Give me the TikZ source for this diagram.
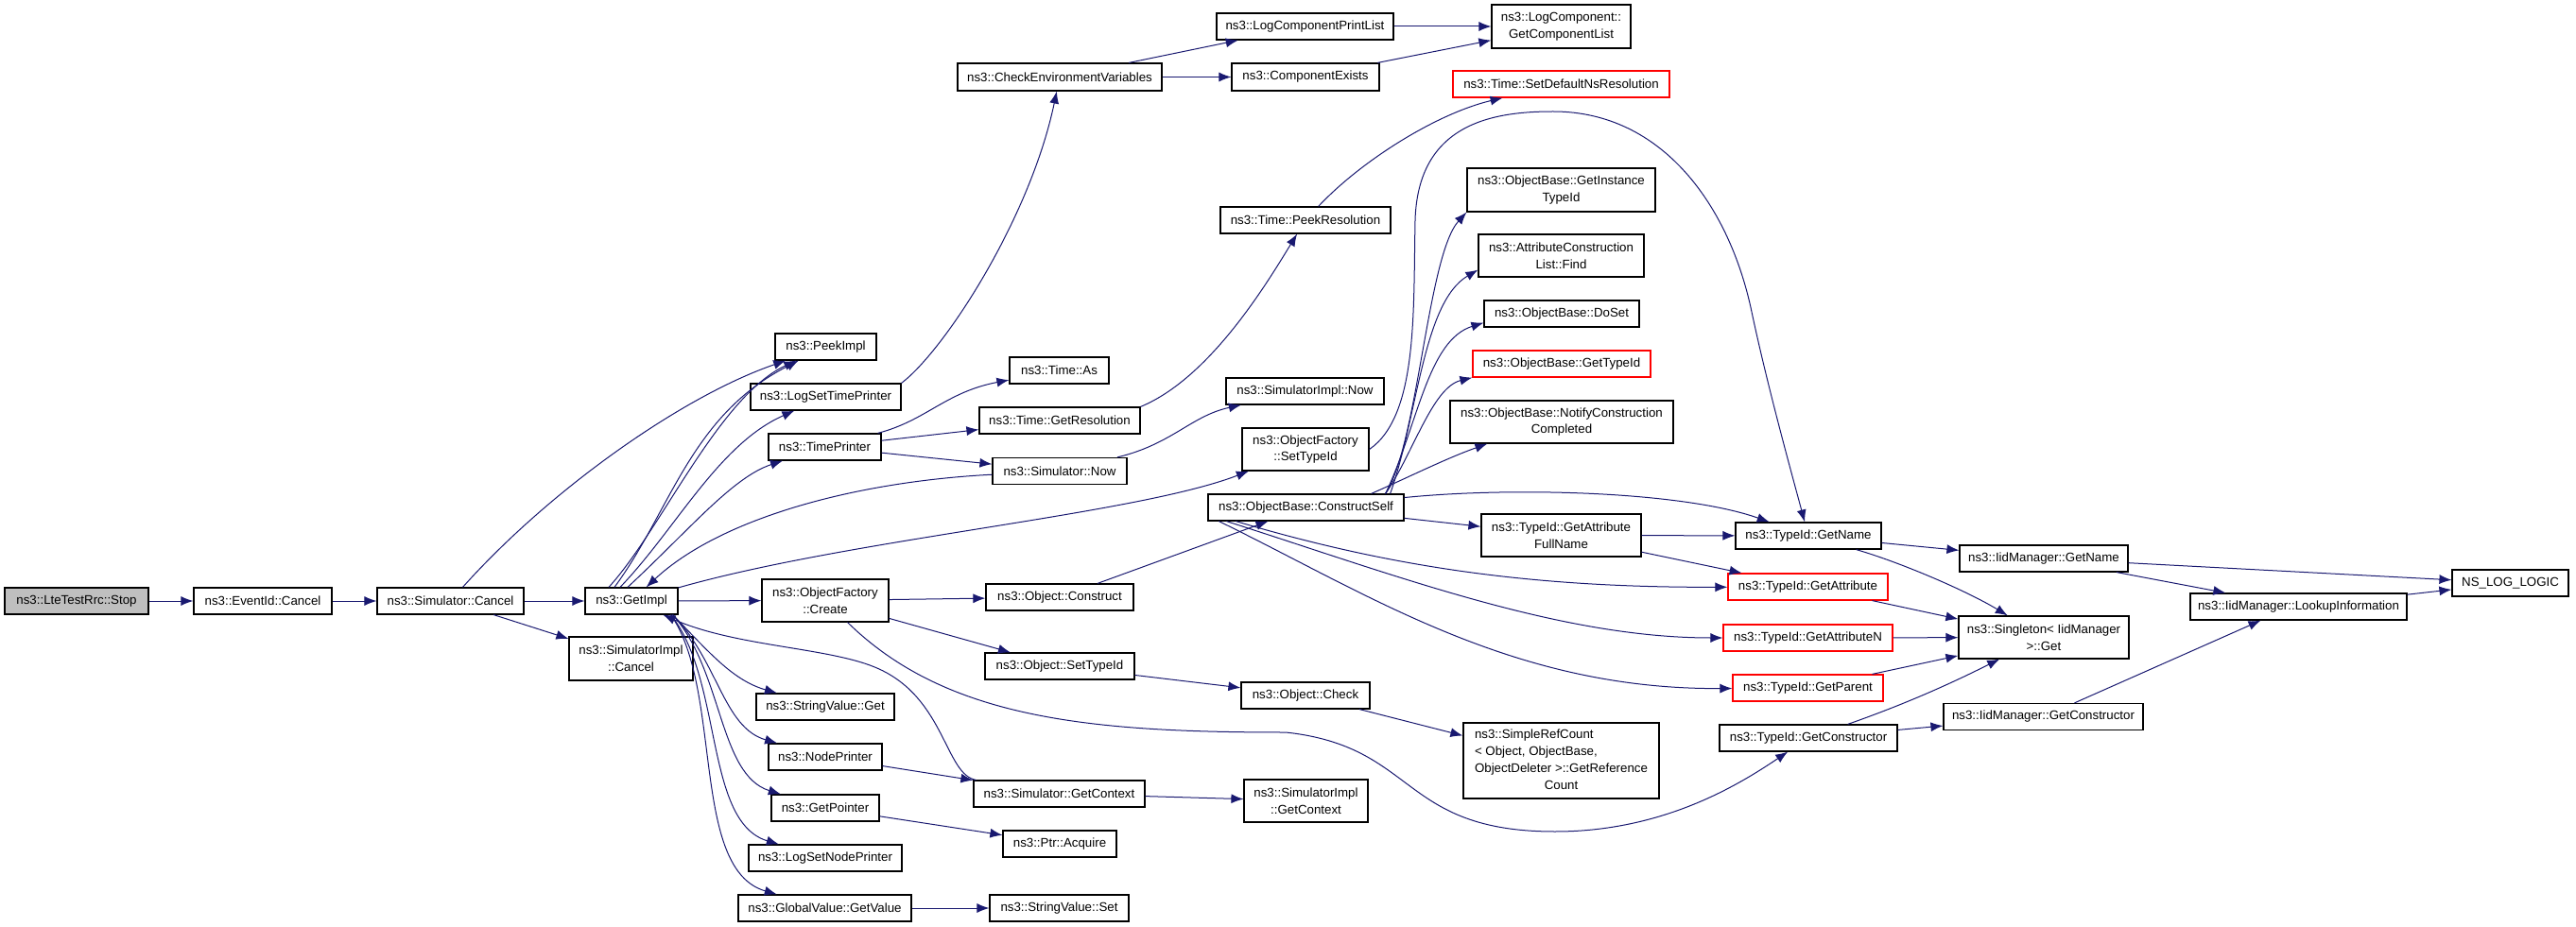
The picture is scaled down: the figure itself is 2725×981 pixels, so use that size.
\documentclass[tikz,border=0pt]{standalone}
\usepackage{fontspec}
\setmainfont{Liberation Sans}
\usetikzlibrary{arrows.meta}
\definecolor{edgeblue}{HTML}{191970}
\definecolor{stopgray}{HTML}{BFBFBF}
\tikzset{
    fn/.style={draw, line width=1.2pt, inner sep=0pt, minimum height=28pt, align=center, font=\fontsize{13.3}{17.7}\selectfont},
    fnred/.style={fn, draw=red},
    call/.style={->, >={Latex[length=13pt,width=10pt]}, draw=edgeblue, line width=1pt}
}
\begin{document}
\begin{tikzpicture}[x=1pt, y=-1pt]
    \useasboundingbox (0,0) rectangle (2725,981);
    \node[fn, fill=stopgray, minimum width=152pt] (stop) at (81,636) {ns3::LteTestRrc::Stop};
    \node[fn, minimum width=146pt] (evc) at (278,636) {ns3::EventId::Cancel};
    \node[fn, minimum width=155pt] (simc) at (476.5,636) {ns3::Simulator::Cancel};
    \node[fn, minimum width=98pt] (gimpl) at (668,636) {ns3::GetImpl};
    \node[fn, minimum width=131pt, minimum height=46pt] (simic) at (667.5,697) {ns3::SimulatorImpl\\::Cancel};

    \node[fn, minimum width=107pt] (peek) at (873.5,367) {ns3::PeekImpl};
    \node[fn, minimum width=159pt] (lstp) at (873.5,420) {ns3::LogSetTimePrinter};
    \node[fn, minimum width=119pt] (tprn) at (872.5,473) {ns3::TimePrinter};
    \node[fn, minimum width=134pt, minimum height=45pt] (ofcr) at (873,635.5) {ns3::ObjectFactory\\::Create};
    \node[fn, minimum width=146pt] (svget) at (873,748) {ns3::StringValue::Get};
    \node[fn, minimum width=120pt] (nprn) at (873,801) {ns3::NodePrinter};
    \node[fn, minimum width=114pt] (gptr) at (873,855) {ns3::GetPointer};
    \node[fn, minimum width=162pt] (lsnp) at (873,908) {ns3::LogSetNodePrinter};
    \node[fn, minimum width=183pt] (gvget) at (872.5,961) {ns3::GlobalValue::GetValue};

    \node[fn, minimum width=216pt, minimum height=29pt] (cenv) at (1121,81.5) {ns3::CheckEnvironmentVariables};
    \node[fn, minimum width=105pt] (tas) at (1120.5,392) {ns3::Time::As};
    \node[fn, minimum width=170pt] (tgres) at (1121,445) {ns3::Time::GetResolution};
    \node[fn, minimum width=142pt] (snow) at (1121,498.5) {ns3::Simulator::Now};
    \node[fn, minimum width=156pt] (ocon) at (1121,632) {ns3::Object::Construct};
    \node[fn, minimum width=158pt] (ostid) at (1121,705) {ns3::Object::SetTypeId};
    \node[fn, minimum width=181pt] (sgctx) at (1120.5,840) {ns3::Simulator::GetContext};
    \node[fn, minimum width=120pt] (pacq) at (1121,893) {ns3::Ptr::Acquire};
    \node[fn, minimum width=147pt] (svset) at (1120.5,961) {ns3::StringValue::Set};

    \node[fn, minimum width=187pt] (lcpl) at (1380.5,28) {ns3::LogComponentPrintList};
    \node[fn, minimum width=156pt, minimum height=29pt] (cex) at (1381,81.5) {ns3::ComponentExists};
    \node[fn, minimum width=180pt] (tpres) at (1381,233) {ns3::Time::PeekResolution};
    \node[fn, minimum width=167pt] (sinow) at (1380.5,414) {ns3::SimulatorImpl::Now};
    \node[fn, minimum width=134pt, minimum height=45pt] (ofstid) at (1381,475.5) {ns3::ObjectFactory\\::SetTypeId};
    \node[fn, minimum width=207pt] (obcs) at (1381.5,537) {ns3::ObjectBase::ConstructSelf};
    \node[fn, minimum width=136pt] (ochk) at (1381,736) {ns3::Object::Check};
    \node[fn, minimum width=131pt, minimum height=45pt] (sigctx) at (1381.5,847.5) {ns3::SimulatorImpl\\::GetContext};

    \node[fn, minimum width=147pt, minimum height=46pt] (lcgcl) at (1651.5,28) {ns3::LogComponent::\\GetComponentList};
    \node[fnred, minimum width=229pt] (tsdr) at (1651.5,89) {ns3::Time::SetDefaultNsResolution};
    \node[fn, minimum width=199pt, minimum height=46pt] (obgit) at (1651.5,201) {ns3::ObjectBase::GetInstance\\TypeId};
    \node[fn, minimum width=175pt, minimum height=45pt] (acfind) at (1651.5,270.5) {ns3::AttributeConstruction\\List::Find};
    \node[fn, minimum width=164pt] (obdoset) at (1652,332) {ns3::ObjectBase::DoSet};
    \node[fnred, minimum width=188pt] (obgtid) at (1652,385) {ns3::ObjectBase::GetTypeId};
    \node[fn, minimum width=236pt, minimum height=45pt] (obncc) at (1652,446.5) {ns3::ObjectBase::NotifyConstruction\\Completed};
    \node[fn, minimum width=169pt, minimum height=45pt] (tgafn) at (1651.5,566.5) {ns3::TypeId::GetAttribute\\FullName};
    \node[fn, minimum width=207pt, minimum height=80pt] (srefc) at (1651.5,805) {\begin{tabular}{@{}l@{}}ns3::SimpleRefCount\\< Object, ObjectBase,\\\multicolumn{1}{@{}c@{}}{ObjectDeleter >::GetReference}\\\multicolumn{1}{@{}c@{}}{Count}\end{tabular}};

    \node[fn, minimum width=154pt] (tgn) at (1913,567) {ns3::TypeId::GetName};
    \node[fnred, minimum width=169pt] (tga) at (1912.5,621) {ns3::TypeId::GetAttribute};
    \node[fnred, minimum width=179pt] (tgan) at (1912.5,675) {ns3::TypeId::GetAttributeN};
    \node[fnred, minimum width=159pt] (tgp) at (1912.5,728) {ns3::TypeId::GetParent};
    \node[fn, minimum width=188pt] (tgc) at (1913,781) {ns3::TypeId::GetConstructor};

    \node[fn, minimum width=178pt] (imgn) at (2162,591) {ns3::IidManager::GetName};
    \node[fn, minimum width=180pt, minimum height=45pt] (sget) at (2162,674.5) {ns3::Singleton< IidManager\\>::Get};
    \node[fn, minimum width=211pt] (imgc) at (2161.5,758.5) {ns3::IidManager::GetConstructor};
    \node[fn, minimum width=229pt] (imli) at (2431.5,642) {ns3::IidManager::LookupInformation};
    \node[fn, minimum width=123pt] (nslog) at (2655.5,617) {NS\_LOG\_LOGIC};

    \draw[call] (stop) -- (evc);
    \draw[call] (evc) -- (simc);
    \draw[call] (simc) -- (gimpl);
    \draw[call] (simc) -- (simic);
    \draw[call] (simc) .. controls (580,520) and (720,420) .. (peek);
    \draw[call] ([xshift=-24pt]gimpl.north) .. controls (700,560) and (760,420) .. (peek);
    \draw[call] ([xshift=-18pt]gimpl.north) .. controls (710,540) and (730,440) .. (peek);
    \draw[call] ([xshift=-12pt]gimpl.north) .. controls (715,560) and (760,470) .. (lstp);
    \draw[call] ([xshift=-4pt]gimpl.north) .. controls (730,560) and (775,505) .. (tprn);
    \draw[call] (snow) .. controls (900,510) and (760,550) .. (gimpl);
    \draw[call] (gimpl) .. controls (900,570) and (1200,545) .. (ofstid);
    \draw[call] (gimpl) -- (ofcr);
    \draw[call] ([xshift=-6pt]gimpl.south east) .. controls (750,690) and (775,720) .. (svget);
    \draw[call] ([xshift=-6pt]gimpl.south east) .. controls (760,700) and (765,770) .. (nprn);
    \draw[call] ([xshift=-6pt]gimpl.south east) .. controls (765,710) and (760,820) .. (gptr);
    \draw[call] ([xshift=-8pt]gimpl.south east) .. controls (765,720) and (745,870) .. (lsnp);
    \draw[call] ([xshift=-8pt]gimpl.south east) .. controls (765,730) and (730,920) .. (gvget);
    \draw[call] (sgctx) .. controls (1000,820) and (1000,740) .. (930,708) .. controls (880,685) and (780,685) .. (gimpl);

    \draw[call] (ofcr) -- (ocon);
    \draw[call] (ofcr) -- (ostid);
    \draw[call] (ofcr) .. controls (1000,760) and (1150,775) .. (1360,775) .. controls (1500,790) and (1480,880) .. (1645,880) .. controls (1760,880) and (1840,830) .. (tgc);
    \draw[call] (nprn) -- (sgctx);
    \draw[call] (sgctx) -- (sigctx);
    \draw[call] (gptr) -- (pacq);
    \draw[call] (gvget) -- (svset);
    \draw[call] (ostid) -- (ochk);
    \draw[call] (ochk) -- (srefc);

    \draw[call] (tprn) .. controls (980,445) and (1000,415) .. (tas);
    \draw[call] (tprn) -- (tgres);
    \draw[call] (tprn) -- (snow);
    \draw[call] (tgres.north east) .. controls (1280,400) and (1340,300) .. (tpres);
    \draw[call] (tpres) .. controls (1440,170) and (1520,120) .. (tsdr);
    \draw[call] (lstp.north east) .. controls (1000,370) and (1090,230) .. (cenv);
    \draw[call] (cenv) -- (lcpl);
    \draw[call] (cenv) -- (cex);
    \draw[call] (lcpl) -- (lcgcl);
    \draw[call] (cex) -- (lcgcl);
    \draw[call] (snow) .. controls (1240,470) and (1260,440) .. (sinow);

    \draw[call] (ocon) -- (obcs);
    \draw[call] (ofstid.east) .. controls (1500,440) and (1495,330) .. (1497,233) .. controls (1500,130) and (1580,118) .. (1643,118) .. controls (1760,118) and (1830,220) .. (1853,330) .. controls (1870,410) and (1895,500) .. (tgn);
    \draw[call] ([xshift=-20pt]obcs.north east) .. controls (1500,470) and (1510,270) .. (obgit.south west);
    \draw[call] ([xshift=-15pt]obcs.north east) .. controls (1500,440) and (1505,320) .. ([yshift=8pt]acfind.south west);
    \draw[call] ([xshift=-20pt]obcs.north east) .. controls (1500,450) and (1510,360) .. ([yshift=5pt]obdoset.south west);
    \draw[call] ([xshift=-20pt]obcs.north east) .. controls (1495,480) and (1515,410) .. (obgtid.south west);
    \draw[call] ([xshift=-35pt]obcs.north east) .. controls (1490,505) and (1530,485) .. ([xshift=40pt]obncc.south west);
    \draw[call] (obcs) .. controls (1600,515) and (1780,520) .. (tgn);
    \draw[call] (obcs) -- (tgafn);
    \draw[call] ([xshift=30pt]obcs.south west) .. controls (1470,600) and (1620,622) .. (tga);
    \draw[call] ([xshift=20pt]obcs.south west) .. controls (1480,610) and (1650,675) .. (tgan);
    \draw[call] ([xshift=12pt]obcs.south west) .. controls (1450,630) and (1600,730) .. (tgp);

    \draw[call] (tgafn) -- (tgn);
    \draw[call] (tgafn) -- (tga);
    \draw[call] (tgn) -- (imgn);
    \draw[call] (tgn) .. controls (2010,595) and (2080,625) .. (sget);
    \draw[call] (tga) -- (sget);
    \draw[call] (tgan) -- (sget);
    \draw[call] (tgp) -- (sget);
    \draw[call] (tgc) .. controls (2030,740) and (2080,715) .. (sget);
    \draw[call] (tgc) -- (imgc);
    \draw[call] (imgn) -- (nslog);
    \draw[call] (imgn) -- (imli);
    \draw[call] (imli) -- (nslog);
    \draw[call] (imgc) -- ([xshift=-40pt]imli.south);
\end{tikzpicture}
\end{document}
